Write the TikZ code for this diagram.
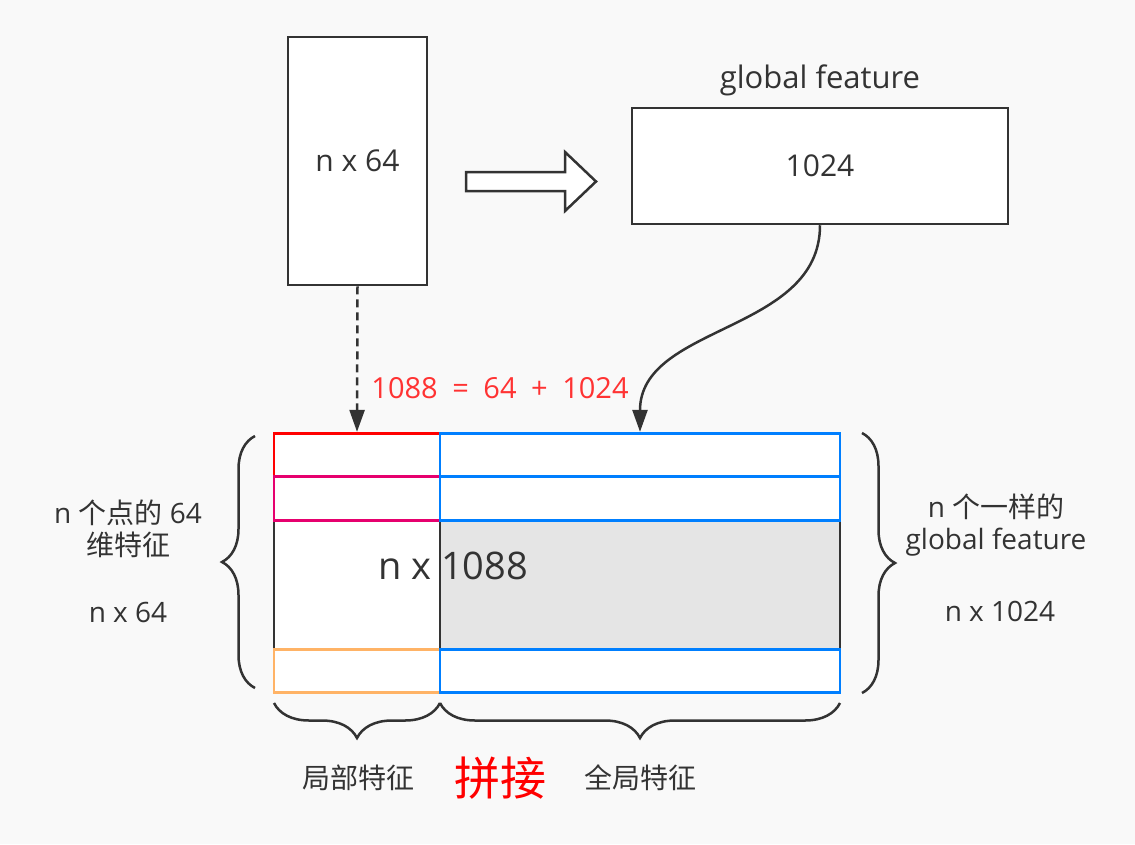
\documentclass[tikz,border=0pt]{standalone}
\usepackage{fontspec}
\setmainfont{Open Sans}
\newfontfamily\cjk{Noto Sans CJK SC}
\usetikzlibrary{arrows.meta,decorations.pathreplacing}

\definecolor{ink}{HTML}{333333}
\definecolor{bgcol}{HTML}{F9F9F9}
\definecolor{midgray}{HTML}{E5E5E5}
\definecolor{cellblue}{HTML}{007FFF}
\definecolor{cellpink}{HTML}{E6006E}
\definecolor{cellorange}{HTML}{FFB366}
\definecolor{sumred}{HTML}{FF3333}

\tikzset{
  box/.style={draw=ink, line width=2.5pt, fill=white, inner sep=0pt},
  cell/.style={line width=2.8pt, fill=white, inner sep=0pt, minimum height=43.5pt},
  lbl/.style={text=ink, align=center, font=\fontsize{28pt}{32pt}\selectfont},
  tip/.style={-{Triangle[length=22pt,width=15pt]}},
  brc/.style={draw=ink, line width=2.5pt, decorate, decoration={brace, amplitude=#1}}
}

\begin{document}
\begin{tikzpicture}[x=1pt,y=-1pt]

\fill[bgcol] (0,0) rectangle (1135,844);
\useasboundingbox (0,0) rectangle (1135,844);

% input points and global feature
\node[box, lbl, font=\fontsize{30pt}{34pt}\selectfont, minimum width=139pt, minimum height=248pt] (pts) at (357.5,161) {\raisebox{-4pt}{n x 64}};
\node[box, lbl, font=\fontsize{30pt}{34pt}\selectfont, minimum width=376pt, minimum height=116pt] (glob) at (820,166) {\raisebox{-4pt}{1024}};
\node[lbl, font=\fontsize{31pt}{34pt}\selectfont] (globlbl) at (820,80) {global feature};

% max pooling arrow
\draw[ink, line width=2.5pt, fill=white] (466,172) -- (565,172) -- (565,152) -- (596,181.5)
  -- (565,211) -- (565,191) -- (466,191) -- cycle;

% concatenated table
\node[cell, draw=ink, minimum width=166pt, minimum height=129pt] (lmid) at (357,584.5) {};
\node[cell, draw=ink, fill=midgray, minimum width=400pt, minimum height=129pt] (rmid) at (640,584.5) {};
\node[cell, draw=red, minimum width=166pt] (l1) at (357,455) {};
\node[cell, draw=cellpink, minimum width=166pt] (l2) at (357,498.5) {};
\node[cell, draw=cellorange, minimum width=166pt] (l4) at (357,671) {};
\node[cell, draw=cellblue, minimum width=400pt] (r1) at (640,455) {};
\node[cell, draw=cellblue, minimum width=400pt] (r2) at (640,498.5) {};
\node[cell, draw=cellblue, minimum width=400pt] (r4) at (640,671) {};

\node[lbl, font=\fontsize{38pt}{44pt}\selectfont] (tot) at (453,566) {n x 1088};
\node[text=sumred, font=\fontsize{29pt}{32pt}\selectfont] (sum) at (500,388) {1088 \hspace{7pt}=\hspace{7pt} 64 \hspace{7pt}+\hspace{7pt} 1024};

\draw[ink, line width=2.5pt, dash pattern=on 8pt off 5pt, tip] (pts.south) -- (l1.north);
\draw[ink, line width=2.5pt, tip] (glob.south) .. controls +(0,108) and +(0,-108) .. (r1.north);

% braces
\draw[brc=33pt] (255,688) -- (255,436);
\draw[brc=33pt] (862,433) -- (862,693);
\draw[brc=35pt] (440,703) -- (274,703);
\draw[brc=35pt] (840,703) -- (440,703);

\node[lbl] (loc) at (128,529) {n {\cjk 个点的} 64\\{\cjk 维特征}};
\node[lbl] (locdim) at (128,612) {n x 64};
\node[lbl] (glb) at (996,525) {n {\cjk 个一样的}\\global feature};
\node[lbl] (glbdim) at (1000,611) {n x 1024};

\node[lbl, font=\fontsize{28pt}{32pt}\cjk] (loclbl) at (358,778) {局部特征};
\node[text=red, font=\fontsize{46pt}{52pt}\cjk] (cat) at (500,778) {拼接};
\node[lbl, font=\fontsize{28pt}{32pt}\cjk] (glblbl) at (640,778) {全局特征};

\end{tikzpicture}
\end{document}
